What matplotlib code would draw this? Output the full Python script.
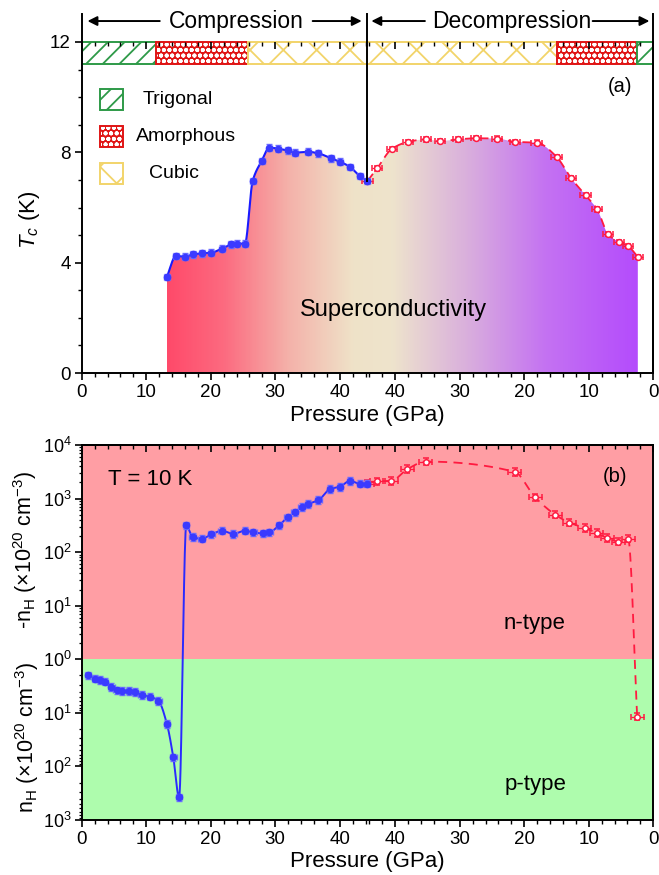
import numpy as np
import matplotlib
matplotlib.use('Agg')
import matplotlib.pyplot as plt
from matplotlib.patches import Rectangle, Polygon
from matplotlib.colors import LinearSegmentedColormap

plt.rcParams['font.family'] = ['Liberation Sans', 'DejaVu Sans']
plt.rcParams['mathtext.fontset'] = 'custom'
plt.rcParams['mathtext.rm'] = 'Liberation Sans'
plt.rcParams['mathtext.it'] = 'Liberation Sans:italic'
plt.rcParams['mathtext.bf'] = 'Liberation Sans:bold'
plt.rcParams['hatch.linewidth'] = 1.3

# ---------------- data ----------------
P_MAX = 44.3                      # turning point between compression / decompression (GPa)
X_TICKS = [0, 10, 20, 30, 40]

# (a) Tc, compression
tc_comp_p = [13.2, 14.6, 16.0, 17.3, 18.7, 20.1, 21.7, 23.2, 24.0, 25.3, 26.5, 27.9,
             29.1, 30.5, 31.9, 33.0, 35.1, 36.7, 38.7, 40.0, 41.6, 43.1, 44.3]
tc_comp_t = [3.48, 4.24, 4.22, 4.30, 4.34, 4.36, 4.51, 4.66, 4.69, 4.69, 6.96, 7.69,
             8.17, 8.13, 8.07, 7.99, 8.02, 7.96, 7.78, 7.66, 7.47, 7.14, 6.96]
# (a) Tc, decompression
tc_dec_p = [44.3, 42.8, 40.5, 38.0, 35.2, 33.1, 30.3, 27.5, 24.2, 21.4, 18.1, 15.0,
            12.8, 10.5, 8.7, 7.0, 5.3, 3.9, 2.4]
tc_dec_t = [6.96, 7.42, 8.13, 8.38, 8.47, 8.41, 8.47, 8.51, 8.50, 8.38, 8.35, 7.84,
            7.08, 6.44, 5.93, 5.03, 4.75, 4.60, 4.21]

# (b) Hall carrier density n_H (x10^20 cm^-3); negative = n-type, positive = p-type
nh_comp_p = [1.0, 2.1, 2.8, 3.6, 4.6, 5.4, 6.3, 7.4, 8.3, 9.3, 10.6, 11.9, 13.2, 14.2, 15.1,
             16.2, 17.2, 18.6, 20.1, 21.7, 23.5, 25.3, 26.6, 28.1, 29.1, 30.6, 31.9, 33.0,
             34.1, 35.1, 36.7, 38.5, 40.0, 41.6, 43.1, 44.2]
nh_comp_v = [2.0, 2.3, 2.45, 2.6, 3.3, 3.8, 3.9, 3.9, 4.1, 4.6, 5.0, 6.0, 16, 68, 380,
             -316, -190, -178, -214, -251, -219, -251, -234, -224, -234, -316, -447, -550,
             -692, -794, -933, -1510, -1660, -2140, -1900, -1900]
nh_dec_p = [44.3, 42.9, 40.6, 38.1, 35.3, 21.5, 18.3, 15.2, 13.0, 10.6, 8.8, 7.1, 5.4, 3.9, 2.5]
nh_dec_v = [-1900, -2090, -2140, -3550, -4900, -3160, -1050, -500, -355, -282, -229, -182,
            -158, -178, 11.7]

# phase bar: (phase, P_start, P_end, branch)
phase_segments = [
    ('Trigonal', 0.0, 12.6, 'comp'),
    ('Amorphous', 11.5, 25.8, 'comp'),
    ('Cubic', 25.8, 44.3, 'comp'),
    ('Cubic', 44.3, 15.0, 'dec'),
    ('Amorphous', 15.0, 2.6, 'dec'),
    ('Trigonal', 2.6, 0.0, 'dec'),
]

# error bars
TC_COMP_XERR, TC_COMP_YERR = 0.45, 0.12
TC_DEC_XERR, TC_DEC_YERR = 0.8, 0.08
NH_COMP_XERR, NH_COMP_YERR = 0.5, 0.07
NH_DEC_XERR, NH_DEC_YERR = 1.0, 0.07

# ---------------- helpers ----------------
U_TOT = 2 * P_MAX


def to_u(p, branch):
    p = np.asarray(p, float)
    return p if branch == 'comp' else U_TOT - p


def sym_log(v):
    v = np.asarray(v, float)
    return np.where(v < 0, np.log10(np.abs(v)), -np.log10(np.abs(v)))


def pchip_curve(x, y, per=30):
    x = np.asarray(x, float)
    y = np.asarray(y, float)
    h = np.diff(x)
    d = np.diff(y) / h
    m = np.zeros_like(y)
    for k in range(1, len(x) - 1):
        if d[k - 1] * d[k] > 0:
            w1 = 2 * h[k] + h[k - 1]
            w2 = h[k] + 2 * h[k - 1]
            m[k] = (w1 + w2) / (w1 / d[k - 1] + w2 / d[k])
    m[0] = d[0]
    m[-1] = d[-1]
    xs, ys = [], []
    for k in range(len(x) - 1):
        t = np.linspace(0, 1, per, endpoint=(k == len(x) - 2))
        h00 = 2 * t**3 - 3 * t**2 + 1
        h10 = t**3 - 2 * t**2 + t
        h01 = -2 * t**3 + 3 * t**2
        h11 = t**3 - t**2
        xs.append(x[k] + t * h[k])
        ys.append(h00 * y[k] + h10 * h[k] * m[k] + h01 * y[k + 1] + h11 * h[k] * m[k + 1])
    return np.concatenate(xs), np.concatenate(ys)


# ---------------- figure ----------------
W, H = 659, 875
fig = plt.figure(figsize=(W / 100, H / 100), dpi=100)


def ax_rect(l, r, t, b):
    return [l / W, 1 - b / H, (r - l) / W, (b - t) / H]


ax1 = fig.add_axes(ax_rect(81.7, 653.3, 42, 373))
ax2 = fig.add_axes(ax_rect(81.7, 653.3, 445, 820))

BLUE = '#3a3aff'
BLUE_E = '#6d6dff'
RED = '#ff1a40'
TICK_FS = 13.5


def setup_x(ax, top_spine=True):
    major = list(X_TICKS) + [U_TOT - p for p in X_TICKS[::-1]]
    labels = [str(p) for p in X_TICKS] + [str(p) for p in X_TICKS[::-1]]
    minor = list(range(0, 45, 2)) + [U_TOT - p for p in range(0, 45, 2)]
    ax.set_xlim(0, U_TOT)
    ax.set_xticks(major)
    ax.set_xticklabels(labels)
    ax.set_xticks(minor, minor=True)
    ax.tick_params(axis='x', which='major', direction='out', length=5, width=1.2,
                   labelsize=TICK_FS, pad=3)
    ax.tick_params(axis='x', which='minor', direction='out', length=3, width=1.0)
    sec = ax.secondary_xaxis('top')
    sec.set_xticks(major)
    sec.set_xticks(minor, minor=True)
    sec.tick_params(axis='x', which='major', direction='in', length=5, width=1.2, labeltop=False)
    sec.tick_params(axis='x', which='minor', direction='in', length=3, width=1.0)
    sec.spines['top'].set_visible(top_spine)
    sec.spines['top'].set_linewidth(1.4)
    sec.set_zorder(6)
    for s in ax.spines.values():
        s.set_linewidth(1.4)


# ======== panel (a) ========
setup_x(ax1, top_spine=False)
ax1.spines['top'].set_visible(False)
ax1.set_ylim(0, 12)
ax1.set_yticks([0, 4, 8, 12])
ax1.set_yticks(np.arange(0, 13, 1), minor=True)
ax1.tick_params(axis='y', which='major', direction='out', length=5, width=1.2,
                labelsize=TICK_FS, pad=3)
ax1.tick_params(axis='y', which='minor', direction='out', length=3, width=1.0)

u_c = to_u(tc_comp_p, 'comp')
u_d = to_u(tc_dec_p, 'dec')
cu, ct = pchip_curve(u_c, tc_comp_t)
du, dt = pchip_curve(u_d, tc_dec_t)

# gradient fill under the curves
fu = np.concatenate([cu, du[1:]])
ft = np.concatenate([ct, dt[1:]])
verts = [(fu[0], 0)] + list(zip(fu, ft)) + [(fu[-1], 0)]
poly = Polygon(verts, closed=True, facecolor='none', edgecolor='none')
ax1.add_patch(poly)
u0, u1 = fu[0], fu[-1]
stops = [(13.2, '#ff4a6a'), (22, '#fc6b80'), (32, '#f4b2aa'), (42, '#efe2c8'),
         (48, '#eee4cc'), (60, '#d9aedd'), (72, '#c472f2'), (86.2, '#b44cfc')]
cmap = LinearSegmentedColormap.from_list(
    'sc', [(min(max((s - u0) / (u1 - u0), 0), 1), c) for s, c in stops])
grad = np.linspace(0, 1, 600).reshape(1, -1)
im = ax1.imshow(grad, extent=[u0, u1, 0, 12], aspect='auto', cmap=cmap,
                origin='lower', zorder=0.5, interpolation='bilinear')
im.set_clip_path(poly)
ax1.set_xlim(0, U_TOT)
ax1.set_ylim(0, 12)

# curves
ax1.plot(du, dt, color=RED, lw=1.3, ls=(0, (5, 3)), zorder=3)
ax1.errorbar(u_d, tc_dec_t, xerr=TC_DEC_XERR, yerr=TC_DEC_YERR, fmt='o', ms=4.2,
             mfc='white', mec=RED, mew=1.1, ecolor=RED, elinewidth=0.9, capsize=2,
             zorder=4)
ax1.plot(cu, ct, color='#1a1aff', lw=1.5, zorder=5)
ax1.errorbar(u_c, tc_comp_t, xerr=TC_COMP_XERR, yerr=TC_COMP_YERR, fmt='o', ms=4.5,
             color=BLUE, ecolor=BLUE_E, elinewidth=1.0, capsize=2, zorder=6)

# phase bar
BAR_Y0, BAR_Y1 = 11.22, 12.0
GREEN_P = '#2e9a48'
RED_P = '#e01515'
YEL_P = '#f2d46a'


def phase_patch(ax, a, b, phase, y0, y1, z=1.5):
    lo, hi = min(a, b), max(a, b)
    w = hi - lo
    hgt = y1 - y0
    if phase == 'Trigonal':
        ax.add_patch(Rectangle((lo, y0), w, hgt, facecolor='white', edgecolor=GREEN_P,
                               hatch='//', lw=1.4, zorder=z, clip_on=False))
    elif phase == 'Cubic':
        ax.add_patch(Rectangle((lo, y0), w, hgt, facecolor='white', edgecolor=YEL_P,
                               hatch='x', lw=1.4, zorder=z, clip_on=False))
    else:
        ax.add_patch(Rectangle((lo, y0), w, hgt, facecolor=RED_P, edgecolor='none',
                               zorder=z, clip_on=False))
        ax.add_patch(Rectangle((lo, y0), w, hgt, facecolor='none', edgecolor='white',
                               hatch='ooo', lw=0, zorder=z + 0.01, clip_on=False))
        ax.add_patch(Rectangle((lo, y0), w, hgt, facecolor='none', edgecolor=RED_P,
                               lw=1.4, zorder=z + 0.02, clip_on=False))


for i, (ph, a, b, br) in enumerate(phase_segments):
    phase_patch(ax1, to_u(a, br), to_u(b, br), ph, BAR_Y0, BAR_Y1, z=1.5 + 0.05 * i)

# legend
leg_y = [9.93, 8.59, 7.22]
for (ph, yy) in zip(['Trigonal', 'Amorphous', 'Cubic'], leg_y):
    phase_patch(ax1, 2.8, 6.4, ph, yy - 0.38, yy + 0.38, z=2)
ax1.text(9.4, leg_y[0], 'Trigonal', fontsize=14, va='center', ha='left')
ax1.text(8.4, leg_y[1], 'Amorphous', fontsize=14, va='center', ha='left')
ax1.text(10.4, leg_y[2], 'Cubic', fontsize=14, va='center', ha='left')

ax1.text(83.5, 10.37, '(a)', fontsize=14.5, ha='center', va='center')
ax1.text(48.3, 2.28, 'Superconductivity', fontsize=17, ha='center', va='center')

# vertical markers & arrows
LINE_TOP = 13.0
ax1.plot([0, 0], [12, LINE_TOP], color='k', lw=1.4, clip_on=False, zorder=7)
ax1.plot([U_TOT, U_TOT], [0, LINE_TOP], color='k', lw=1.4, clip_on=False, zorder=7)
ax1.plot([P_MAX, P_MAX], [tc_comp_t[-1], LINE_TOP], color='k', lw=1.4, clip_on=False, zorder=7)
ARR_Y = 12.76
arrow_kw = dict(arrowstyle='-|>', lw=1.4, color='k', mutation_scale=14, shrinkA=0, shrinkB=0)
for (xa, xb) in [(12.1, 0.9), (35.8, 43.4), (53.2, 44.9), (79.2, 88.0)]:
    ax1.annotate('', xy=(xb, ARR_Y), xytext=(xa, ARR_Y), arrowprops=arrow_kw,
                 annotation_clip=False)
ax1.text(23.9, ARR_Y, 'Compression', fontsize=16.5, ha='center', va='center')
ax1.text(66.6, ARR_Y, 'Decompression', fontsize=16.5, ha='center', va='center')

fig.text(30 / W, 1 - 220 / H, '$T_c$ (K)', rotation=90, fontsize=16, ha='center', va='center')
fig.text(367.5 / W, 1 - 416 / H, 'Pressure (GPa)', fontsize=16, ha='center', va='center')

# ======== panel (b) ========
setup_x(ax2, top_spine=True)
ax2.set_ylim(-3, 4)
ax2.axhspan(0, 4, color='#ff9ea4', zorder=0, lw=0)
ax2.axhspan(-3, 0, color='#aefcad', zorder=0, lw=0)
ax2.set_yticks(range(-3, 5))
ax2.set_yticklabels([r'$10^{3}$', r'$10^{2}$', r'$10^{1}$', r'$10^{0}$',
                     r'$10^{1}$', r'$10^{2}$', r'$10^{3}$', r'$10^{4}$'])
minor_y = [k + np.log10(m) for k in range(4) for m in range(2, 10)] + \
          [-(k + np.log10(m)) for k in range(3) for m in range(2, 10)]
ax2.set_yticks(minor_y, minor=True)
ax2.tick_params(axis='y', which='major', direction='out', length=5, width=1.2,
                labelsize=13, pad=2)
ax2.tick_params(axis='y', which='minor', direction='out', length=2.5, width=0.9)

nu_c = to_u(nh_comp_p, 'comp')
ny_c = sym_log(nh_comp_v)
nu_d = to_u(nh_dec_p, 'dec')
ny_d = sym_log(nh_dec_v)
bcu, bcy = pchip_curve(nu_c, ny_c)
bdu, bdy = pchip_curve(nu_d, ny_d)

ax2.plot(bdu, bdy, color=RED, lw=1.3, ls=(0, (5, 3.5)), zorder=3)
ax2.errorbar(nu_d, ny_d, xerr=NH_DEC_XERR, yerr=NH_DEC_YERR, fmt='o', ms=4.0,
             mfc='white', mec=RED, mew=1.1, ecolor=RED, elinewidth=0.9, capsize=2, zorder=4)
ax2.plot(bcu, bcy, color='#2a2aff', lw=1.4, zorder=5)
ax2.errorbar(nu_c, ny_c, xerr=NH_COMP_XERR, yerr=NH_COMP_YERR, fmt='o', ms=4.5,
             color=BLUE, ecolor=BLUE_E, elinewidth=1.0, capsize=2, zorder=6)

ax2.text(4.1, 3.35, 'T = 10 K', fontsize=16, ha='left', va='center')
ax2.text(82.6, 3.42, '(b)', fontsize=14.5, ha='center', va='center')
ax2.text(70.2, 0.67, 'n-type', fontsize=16, ha='center', va='center')
ax2.text(70.4, -2.33, 'p-type', fontsize=16, ha='center', va='center')

fig.text(25 / W, 1 - 550 / H, r'-n$_\mathrm{H}$ ($\times$10$^{20}$ cm$^{-3}$)', rotation=90,
         fontsize=15.5, ha='center', va='center')
fig.text(27 / W, 1 - 737 / H, r'n$_\mathrm{H}$ ($\times$10$^{20}$ cm$^{-3}$)', rotation=90,
         fontsize=15.5, ha='center', va='center')
fig.text(367.5 / W, 1 - 862 / H, 'Pressure (GPa)', fontsize=16, ha='center', va='center')

fig.savefig('out.png', dpi=100)
